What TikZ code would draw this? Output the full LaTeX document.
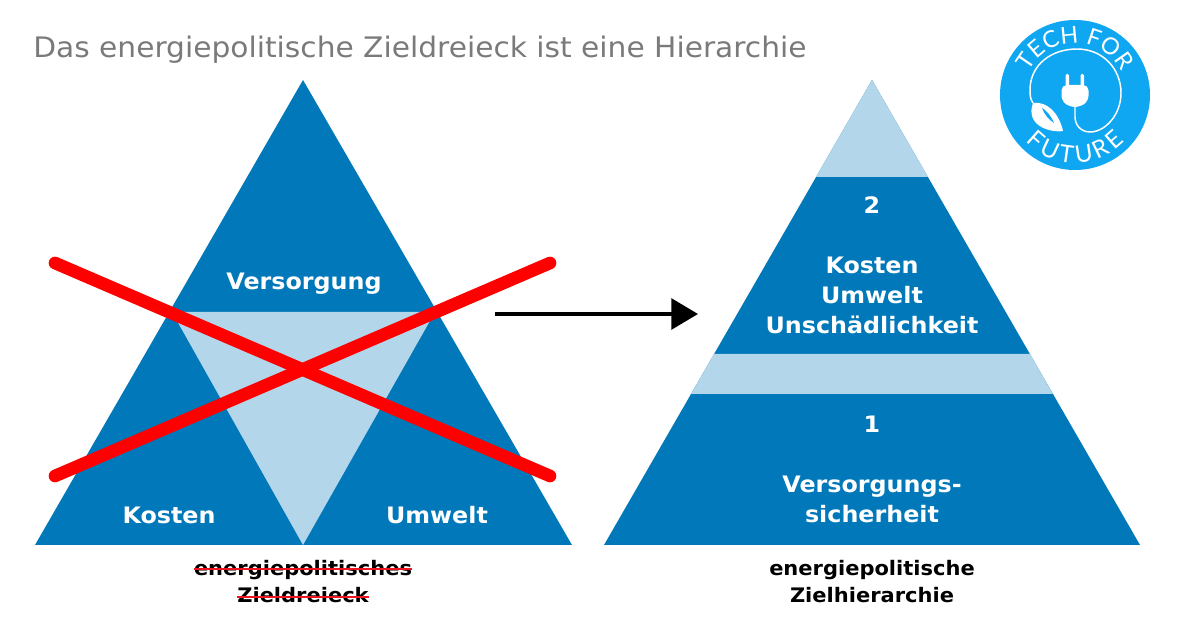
\documentclass[tikz,border=0pt]{standalone}
\usepackage{fontspec}
\setmainfont[FakeStretch=1.05]{DejaVu Sans}
\newfontfamily\logofont{Lato}
\usetikzlibrary{decorations.text,arrows.meta}
\definecolor{pyrblue}{HTML}{0078B9}
\definecolor{pyrlight}{HTML}{B3D6EB}
\definecolor{logoblue}{HTML}{0FA6F2}
\definecolor{titlegray}{HTML}{7A7A7A}
\definecolor{strikered}{HTML}{EE1520}
\begin{document}
\begin{tikzpicture}[x=0.75pt,y=-0.75pt,
  inlabel/.style={text=white,font=\bfseries\fontsize{17}{18}\selectfont,anchor=base,inner sep=0pt},
  caption/.style={text=black,font=\bfseries\fontsize{15}{18}\selectfont,anchor=base,inner sep=0pt},
  crossbar/.style={draw=red,line width=9.5pt,line cap=round},
  strike/.style={draw=strikered,line width=1.8pt}]
\useasboundingbox (0,0) rectangle (1200,630);
\fill[white] (0,0) rectangle (1200,630);
\node[anchor=base west,inner sep=0pt,text=titlegray,font=\fontsize{21.2}{24}\selectfont] (title) at (33,58) {Das energiepolitische Zieldreieck ist eine Hierarchie};
% left triangle
\fill[pyrblue] (303,80) -- (572,545) -- (35,545) -- cycle;
\fill[pyrlight] (172,312) -- (435,312) -- (303,545) -- cycle;
\node[inlabel] (versorgung) at (304,290) {Versorgung};
\node[inlabel] (kosten) at (169,524) {Kosten};
\node[inlabel] (umwelt) at (437,524) {Umwelt};
% cross
\coordinate (xa) at (55,263); \coordinate (xb) at (550,476);
\coordinate (xc) at (55,476); \coordinate (xd) at (550,263);
\draw[crossbar] (xa) -- (xb);
\draw[crossbar] (xc) -- (xd);
% captions left
\node[caption] (capa) at (303,576) {energiepolitisches};
\node[caption] (capb) at (303,603) {Zieldreieck};
\draw[strike] (capa.west |- 0,569) -- (capa.east |- 0,569);
\draw[strike] (capb.west |- 0,597) -- (capb.east |- 0,597);
% arrow
\coordinate (arra) at (495,314); \coordinate (arrb) at (698,314);
\draw[line width=3pt,-{Triangle[length=20pt,width=23pt]}] (arra) -- (arrb);
% right pyramid
\fill[pyrblue] (872,80) -- (1140,545) -- (604,545) -- cycle;
\fill[pyrlight] (872,80) -- (928,177) -- (816,177) -- cycle;
\fill[pyrlight] (714,354) -- (1030,354) -- (1053,394) -- (691,394) -- cycle;
\node[inlabel] (two) at (872,214) {2};
\node[inlabel] (k2) at (872,274) {Kosten};
\node[inlabel] (u2) at (872,304) {Umwelt};
\node[inlabel] (un) at (872,334) {Unschädlichkeit};
\node[inlabel] (one) at (872,433) {1};
\node[inlabel] (vs) at (872,493) {Versorgungs-};
\node[inlabel] (si) at (872,523) {sicherheit};
\node[caption] (capc) at (872,576) {energiepolitische};
\node[caption] (capd) at (872,603) {Zielhierarchie};
% logo
\begin{scope}[shift={(1075,95)},y=0.75pt]
\fill[logoblue] (0,0) circle (75);
\path[decorate,decoration={text along path,text align={fit to path},
  text={|\logofont\fontsize{17.5}{20}\selectfont\color{white}|TECH FOR}}]
  (153:52) arc (153:27:52);
\path[decorate,decoration={text along path,text align={fit to path},
  text={|\logofont\fontsize{18}{20}\selectfont\color{white}|FUTURE}}]
  (-137:68) arc (-137:-43:68);
% cable
\draw[white,line width=1.1pt] (-42,-8) .. controls (-45,-4) and (-45,1) .. (-45,5)
  .. controls (-45,30) and (-24,46) .. (2,46)
  .. controls (28,46) and (46,26) .. (46,2)
  .. controls (46,-20) and (30,-37) .. (15,-37)
  .. controls (6,-37) and (0,-30) .. (0,-22)
  -- (0,-12);
% plug
\fill[white,rounded corners=1pt] (-9.5,8) -- (-9.5,21) -- (-6,21) -- (-6,8) -- cycle;
\fill[white,rounded corners=1pt] (5.5,8) -- (5.5,21) -- (9,21) -- (9,8) -- cycle;
\fill[white,rounded corners=4pt] (-13.5,10) -- (13.5,10) -- (13.5,-6) -- (5,-12) -- (-5,-12) -- (-13.5,-6) -- cycle;
% leaf
\fill[white] (-42,-8) .. controls (-28,-6) and (-16,-18) .. (-12,-36)
  .. controls (-26,-38) and (-50,-30) .. (-42,-8) -- cycle;
\fill[logoblue] (-33,-13) .. controls (-29,-15) and (-23,-22) .. (-21,-28)
  .. controls (-26,-25) and (-31,-19) .. (-33,-13) -- cycle;
\end{scope}
\end{tikzpicture}
\end{document}
